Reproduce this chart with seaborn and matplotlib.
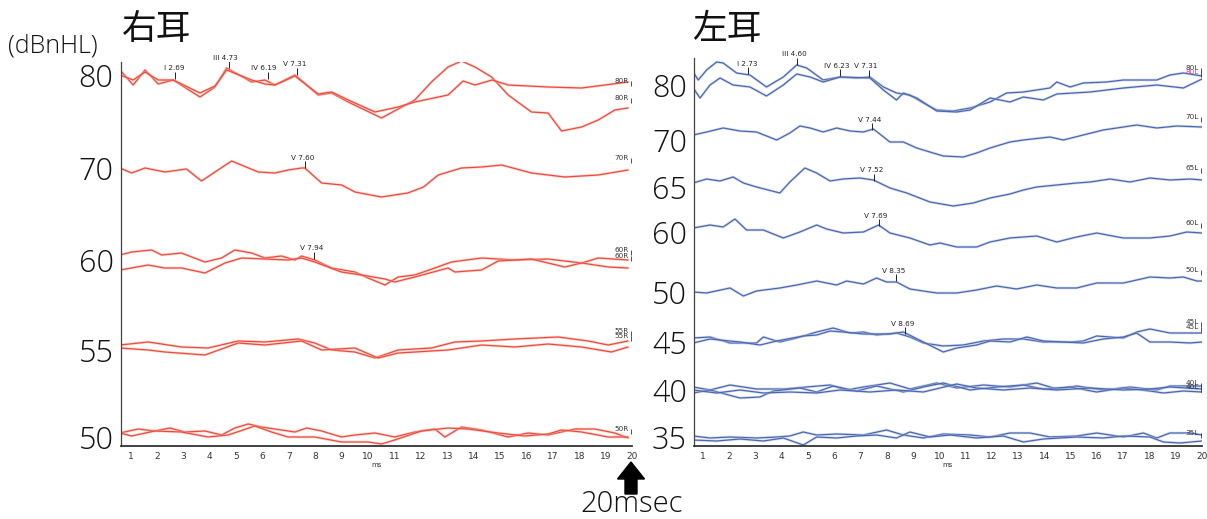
import matplotlib
matplotlib.use("Agg")
import matplotlib.pyplot as plt
import seaborn as sns
from matplotlib.patches import FancyArrow

sns.set_style("white")
plt.rcParams['font.family'] = ['Noto Sans CJK JP', 'DejaVu Sans']

# ---------------- data (latency in ms, trace level) -------------
# Right ear (red)
R80A_T = [0.60, 1.10, 1.55, 2.05, 2.62, 3.63, 4.20, 4.64, 5.59, 6.09, 6.47, 7.23, 8.11, 8.62, 9.25, 10.51,
          11.77, 12.40, 13.03, 13.54, 14.05, 14.68, 15.31, 16.19, 16.82, 17.33, 18.09, 18.72, 19.35, 19.85]
R80A_Y = [70, 85, 70, 84, 80, 97, 87, 68, 82, 80, 85, 75, 95, 93, 102, 118,
          100, 82, 67, 61, 67, 77, 95, 112, 113, 131, 127, 120, 110, 108]
R80B_T = [0.60, 1.10, 1.55, 2.05, 2.62, 3.63, 4.20, 4.64, 5.59, 6.09, 6.47, 7.23, 8.11, 8.62, 9.25, 10.26,
          11.14, 11.77, 13.03, 13.60, 14.05, 14.70, 15.31, 16.82, 18.09, 19.85]
R80B_Y = [75, 80, 72, 80, 80, 93, 86, 70, 80, 84, 85, 76, 94, 92, 100, 112,
          107, 102, 95, 81, 85, 80, 85, 87, 88, 82]
R70_T = [0.60, 1.04, 1.55, 2.30, 3.12, 3.69, 4.20, 4.83, 5.84, 6.47, 6.97, 7.48, 7.60, 8.24, 9.00, 9.50,
         10.50, 11.50, 12.10, 12.66, 13.54, 14.30, 15.06, 16.19, 17.45, 18.72, 19.85]
R70_Y = [168, 173, 168, 172, 169, 181, 172, 161, 172, 173, 170, 168, 168, 183, 185, 192,
         197, 193, 187, 175, 168, 167, 165, 173, 177, 175, 170]
R60A_T = [0.60, 1.04, 1.80, 2.18, 2.93, 3.82, 4.45, 4.95, 5.59, 6.09, 6.72, 7.23, 7.48, 7.98, 8.62, 9.50,
          10.00, 10.64, 11.14, 11.77, 12.53, 13.16, 14.30, 15.56, 16.82, 18.09, 18.72, 19.85]
R60A_Y = [255, 252, 250, 255, 253, 262, 258, 250, 253, 258, 256, 260, 256, 260, 268, 272,
          278, 285, 277, 275, 268, 262, 258, 260, 259, 263, 258, 260]
R60B_T = [0.60, 1.67, 2.30, 2.93, 3.82, 4.58, 5.21, 6.09, 6.97, 7.48, 7.98, 8.99, 9.75, 10.64, 11.01,
          11.77, 13.03, 13.29, 14.30, 14.93, 16.19, 17.45, 18.09, 19.10, 19.85]
R60B_Y = [270, 265, 268, 268, 273, 263, 258, 259, 260, 258, 262, 272, 275, 279, 282,
          277, 268, 272, 270, 261, 259, 267, 263, 267, 268]
R55A_T = [0.60, 1.67, 2.93, 3.94, 5.08, 6.09, 7.35, 7.98, 8.62, 9.50, 10.26, 11.14, 12.40, 13.29, 14.30,
          15.56, 17.20, 18.34, 19.10, 19.85]
R55A_Y = [345, 342, 347, 348, 341, 342, 339, 343, 350, 352, 358, 350, 348, 342, 341,
          339, 337, 341, 345, 341]
R55B_T = [0.60, 1.67, 2.30, 3.82, 5.08, 6.09, 7.48, 8.24, 9.50, 10.38, 11.14, 13.03, 14.30, 15.56, 16.82,
          18.09, 19.22, 19.85]
R55B_Y = [348, 350, 352, 355, 343, 345, 341, 350, 348, 358, 353, 350, 345, 347, 344,
          347, 352, 347]
R50A_T = [0.60, 1.29, 1.92, 2.49, 3.06, 3.82, 4.45, 4.95, 5.46, 5.96, 6.72, 7.23, 7.67, 8.24, 8.99, 9.50,
          10.26, 11.01, 11.77, 12.53, 12.91, 13.54, 14.30, 15.31, 16.07, 16.82, 17.83, 18.59, 19.35, 19.85]
R50A_Y = [433, 429, 431, 428, 432, 431, 435, 428, 424, 427, 430, 432, 428, 431, 437, 435,
          433, 437, 432, 429, 437, 427, 430, 437, 433, 435, 429, 429, 433, 438]
R50B_T = [0.60, 1.04, 1.92, 2.93, 3.94, 4.70, 5.71, 6.34, 6.97, 7.98, 8.99, 10.00, 10.51, 11.01, 12.02,
          13.03, 13.79, 14.93, 15.94, 16.82, 17.33, 18.09, 19.10, 19.85]
R50B_Y = [433, 436, 431, 432, 437, 435, 426, 432, 437, 437, 442, 442, 444, 440, 431,
          428, 429, 433, 436, 434, 430, 432, 437, 437]

# Left ear (blue)
L80A_T = [0.63, 0.82, 1.14, 1.52, 1.77, 2.28, 2.79, 3.42, 4.06, 4.57, 4.95, 5.58, 6.22, 6.85, 7.36, 7.87,
          8.37, 8.88, 9.39, 9.90, 10.53, 11.17, 11.93, 12.56, 13.20, 14.21, 14.47, 14.98, 15.48, 16.37,
          17.01, 18.28, 18.78, 19.29, 20.0]
L80A_Y = [72, 80, 70, 62, 63, 73, 75, 87, 77, 65, 68, 80, 77, 78, 77, 87,
          93, 95, 103, 110, 111, 108, 102, 93, 92, 88, 82, 87, 83, 82,
          80, 80, 75, 73, 76]
L80B_T = [0.63, 0.89, 1.27, 1.65, 2.15, 2.79, 3.42, 4.06, 4.57, 5.08, 5.58, 6.22, 7.36, 7.87, 8.37, 8.63,
          9.14, 9.90, 10.66, 11.17, 11.93, 12.69, 13.20, 13.96, 14.47, 15.74, 17.01, 18.28, 19.29, 20.0]
L80B_Y = [88, 98, 85, 78, 85, 87, 96, 85, 74, 77, 82, 77, 78, 90, 100, 93,
          98, 111, 112, 110, 98, 102, 97, 100, 94, 92, 88, 85, 88, 79]
L70_T = [0.63, 1.14, 1.77, 2.41, 3.04, 3.81, 4.31, 4.69, 5.08, 5.58, 6.09, 6.60, 7.11, 7.49, 8.12, 8.63,
         9.14, 9.64, 10.15, 10.91, 11.42, 11.93, 12.69, 13.20, 14.21, 14.72, 15.48, 16.24, 17.01, 17.51,
         18.28, 19.04, 20.0]
L70_Y = [135, 132, 128, 131, 132, 140, 133, 126, 128, 132, 128, 131, 132, 129, 142, 142,
         148, 152, 156, 157, 153, 148, 142, 140, 137, 140, 135, 130, 127, 125,
         128, 126, 127]
L65_T = [0.63, 1.14, 1.65, 2.15, 2.54, 3.04, 3.93, 4.31, 4.88, 5.33, 5.84, 6.34, 6.98, 7.49, 8.12, 8.76,
         9.64, 10.53, 11.29, 11.93, 12.69, 13.20, 13.71, 14.47, 15.23, 15.74, 16.50, 17.26, 18.02, 18.78,
         19.55, 20.0]
L65_Y = [183, 179, 181, 177, 183, 187, 193, 182, 168, 173, 181, 179, 178, 180, 188, 193,
         202, 206, 203, 198, 194, 190, 187, 185, 183, 182, 179, 182, 178, 180,
         179, 180]
L60_T = [0.63, 1.27, 1.77, 2.22, 2.66, 3.30, 4.06, 4.69, 5.33, 5.71, 6.34, 7.11, 7.69, 8.12, 8.88, 9.64,
         10.03, 10.66, 11.42, 11.93, 12.69, 13.71, 14.47, 15.23, 15.99, 17.01, 18.02, 18.78, 19.42, 20.0]
L60_Y = [228, 225, 227, 219, 230, 230, 238, 232, 225, 229, 233, 232, 225, 233, 238, 245,
         243, 247, 247, 242, 238, 236, 242, 237, 233, 238, 238, 236, 232, 233]
L50_T = [0.63, 1.14, 2.03, 2.54, 3.04, 3.93, 4.57, 5.33, 6.09, 6.47, 7.11, 7.61, 7.99, 8.37, 8.88, 9.90,
         10.66, 11.42, 12.18, 12.94, 13.71, 14.47, 15.23, 15.99, 17.01, 18.02, 18.78, 19.29, 19.80, 20.0]
L50_Y = [292, 293, 288, 296, 291, 288, 285, 281, 285, 281, 284, 278, 282, 282, 289, 293,
         293, 290, 286, 289, 285, 288, 288, 283, 283, 277, 278, 277, 281, 281]
L45A_T = [0.63, 1.27, 2.03, 3.04, 3.30, 3.93, 4.57, 5.33, 5.96, 6.60, 7.11, 7.61, 8.37, 8.88, 9.39, 10.15,
          10.91, 11.68, 12.44, 13.20, 13.96, 14.98, 15.48, 15.99, 17.01, 17.51, 18.02, 18.78, 19.55, 20.0]
L45A_Y = [338, 337, 343, 343, 337, 342, 338, 332, 328, 333, 332, 335, 333, 337, 343, 346,
          345, 341, 339, 339, 342, 342, 341, 336, 338, 332, 329, 333, 333, 333]
L45B_T = [0.63, 1.27, 2.41, 3.17, 3.81, 4.82, 5.33, 5.84, 6.34, 7.11, 8.12, 8.63, 9.39, 10.15, 10.66,
          11.42, 11.93, 12.69, 13.33, 13.96, 14.72, 15.48, 16.24, 17.01, 17.51, 18.02, 18.78, 19.55, 20.0]
L45B_Y = [343, 339, 342, 345, 341, 336, 335, 331, 332, 334, 334, 332, 342, 352, 348,
          345, 341, 342, 337, 341, 342, 343, 339, 337, 333, 342, 342, 343, 342]
L40A_T = [0.63, 1.27, 2.03, 3.04, 4.06, 4.95, 5.84, 6.47, 7.11, 8.12, 8.88, 9.90, 10.66, 11.68, 12.69,
          13.71, 14.47, 15.23, 16.24, 17.26, 18.28, 18.78, 20.0]
L40A_Y = [387, 390, 385, 389, 389, 387, 385, 390, 387, 383, 389, 383, 388, 385, 387,
          383, 389, 386, 390, 387, 390, 386, 386]
L40B_T = [0.63, 1.27, 2.41, 3.17, 3.68, 4.69, 5.33, 5.96, 6.85, 7.61, 8.63, 9.39, 10.15, 11.17, 12.18,
          13.20, 13.96, 14.98, 15.99, 17.01, 18.02, 18.53, 19.29, 20.0]
L40B_Y = [393, 390, 398, 397, 391, 388, 392, 386, 391, 386, 392, 387, 383, 390, 387,
          385, 389, 387, 392, 388, 391, 393, 391, 392]
L40C_T = [0.63, 1.52, 2.41, 3.30, 4.31, 5.33, 6.22, 7.36, 8.37, 9.39, 10.66, 11.42, 12.44, 13.45, 14.47,
          15.74, 17.01, 18.02, 18.78, 20.0]
L40C_Y = [390, 393, 390, 393, 392, 393, 390, 392, 390, 392, 384, 388, 390, 388, 390,
          388, 390, 389, 387, 389]
L35A_T = [0.63, 1.27, 2.03, 3.04, 3.81, 4.31, 4.82, 5.33, 6.09, 7.11, 7.99, 8.63, 9.39, 10.15, 11.17,
          11.93, 12.69, 13.45, 14.21, 15.23, 15.99, 17.01, 17.77, 18.28, 18.78, 19.55, 20.0]
L35A_Y = [436, 438, 437, 438, 437, 436, 432, 435, 434, 435, 430, 435, 438, 434, 435,
          437, 433, 433, 437, 436, 433, 437, 433, 438, 433, 433, 435]
L35B_T = [0.63, 1.52, 2.41, 3.30, 4.06, 4.82, 5.33, 6.09, 6.85, 7.61, 8.37, 8.88, 9.64, 10.41, 11.42,
          12.44, 13.20, 13.96, 15.23, 16.24, 17.01, 18.02, 18.53, 19.16, 20.0]
L35B_Y = [440, 441, 439, 441, 438, 445, 437, 438, 436, 435, 438, 432, 437, 435, 438,
          436, 442, 439, 437, 438, 436, 437, 442, 443, 441]

# Peak markers: wave name, latency (ms), trace level at the peak
R_PEAK_NAMES = ["I", "III", "IV", "V", "V", "V"]
R_PEAK_LAT = [2.69, 4.73, 6.19, 7.31, 7.60, 7.94]
R_PEAK_LVL = [79, 68, 79, 75, 168, 259]
L_PEAK_NAMES = ["I", "III", "IV", "V", "V", "V", "V", "V", "V"]
L_PEAK_LAT = [2.73, 4.60, 6.23, 7.31, 7.44, 7.52, 7.69, 8.35, 8.69]
L_PEAK_LVL = [74, 65, 76, 77, 130, 181, 226, 281, 334]

# End-of-trace labels
R_END_LABELS = ["80R", "80R", "70R", "60R", "60R", "55R", "55R", "50R"]
R_END_LVL = [81, 98, 158, 250, 256, 331, 336, 429]
L_END_LABELS = ["80L", "80L", "70L", "65L", "60L", "50L", "45L", "45L", "40L", "40L", "35L"]
L_END_LVL = [68, 72, 117, 168, 223, 270, 322, 327, 383, 387, 433]

# Big intensity labels (dBnHL)
R_LEVELS = ["80", "70", "60", "55", "50"]
R_LEVEL_POS = [75, 168, 260, 350, 437]
L_LEVELS = ["80", "70", "65", "60", "50", "45", "40", "35"]
L_LEVEL_POS = [85, 140, 187, 232, 292, 342, 390, 437]
R_TICKS = [68, 114, 159, 205, 251, 297, 343, 388, 434]
L_TICKS = [68, 111, 154, 201, 249, 296, 343, 390, 438]

X_TICKS = list(range(1, 21))

RED = "#ee4a3a"
BLUE = "#4766b4"

# ---------------- figure ----------------
W, H = 1207, 519
fig = plt.figure(figsize=(W / 100, H / 100), dpi=100)
axR = fig.add_axes([120.5 / W, (H - 446) / H, (632 - 120.5) / W, (446 - 62) / H])
axL = fig.add_axes([694 / W, (H - 446) / H, (1202 - 694) / W, (446 - 58) / H])

right_ear = [(R80A_T, R80A_Y), (R80B_T, R80B_Y), (R70_T, R70_Y), (R60A_T, R60A_Y), (R60B_T, R60B_Y),
             (R55A_T, R55A_Y), (R55B_T, R55B_Y), (R50A_T, R50A_Y), (R50B_T, R50B_Y)]
left_ear = [(L80A_T, L80A_Y), (L80B_T, L80B_Y), (L70_T, L70_Y), (L65_T, L65_Y), (L60_T, L60_Y),
            (L50_T, L50_Y), (L45A_T, L45A_Y), (L45B_T, L45B_Y), (L40A_T, L40A_Y), (L40B_T, L40B_Y),
            (L40C_T, L40C_Y), (L35A_T, L35A_Y), (L35B_T, L35B_Y)]

BIG_FONT = ["Open Sans", "Noto Sans CJK JP", "DejaVu Sans"]


def draw_panel(ax, traces, color, halo, names, lats, lvls, end_labels, end_lvls,
               levels, level_pos, ticks, xlim, ylim, end_colors=None):
    for T, Y in traces:
        sns.lineplot(x=T, y=Y, ax=ax, color=halo, linewidth=2.0, alpha=0.5,
                     estimator=None, sort=False, legend=False)
        sns.lineplot(x=T, y=Y, ax=ax, color=color, linewidth=0.9,
                     estimator=None, sort=False, legend=False)
    for n, t, v in zip(names, lats, lvls):
        ax.vlines(t, v - 7, v, color="#222222", lw=0.7)
        ax.text(t + 0.35, v - 7.5, f"{n} {t:.2f}", ha="right", va="bottom",
                fontsize=5.2, family="DejaVu Sans", color="#222222", clip_on=False)
    for i, (lab, v) in enumerate(zip(end_labels, end_lvls)):
        c = end_colors[i] if end_colors else "#333333"
        ax.text(xlim[1] - 0.12, v, lab, ha="right", va="center", fontsize=5.2,
                family="DejaVu Sans", color=c, clip_on=False)
        ax.vlines(xlim[1] - 0.05, v, v + 5, color="#333333", lw=0.6, clip_on=False)
    ax.set_xlim(*xlim)
    ax.set_ylim(*ylim)
    ax.set_yticks(level_pos, levels)
    ax.set_yticks(ticks, minor=True)
    ax.tick_params(axis="y", which="major", length=0, pad=5, labelsize=22)
    for lab in ax.get_yticklabels():
        lab.set_family(BIG_FONT)
        lab.set_fontweight("light")
        lab.set_color("#111111")
    ax.tick_params(axis="y", which="minor", length=3, width=0.7, color="#333333", direction="out")
    ax.set_xticks(X_TICKS, [str(v) for v in X_TICKS])
    ax.tick_params(axis="x", which="major", length=3, width=0.7, pad=1.5, labelsize=6.5,
                   color="#333333", direction="out")
    for lab in ax.get_xticklabels():
        lab.set_family(["Liberation Sans Narrow", "DejaVu Sans"])
        lab.set_color("#333333")
    ax.set_xlabel("ms", fontsize=5, labelpad=0.5, family="DejaVu Sans", color="#333333")
    ax.set_ylabel("")
    for s in ["top", "right"]:
        ax.spines[s].set_visible(False)
    ax.spines["left"].set_color("#444444")
    ax.spines["left"].set_linewidth(0.9)
    ax.spines["bottom"].set_color("#333333")
    ax.spines["bottom"].set_linewidth(1.3)
    ax.set_facecolor("white")


draw_panel(axR, right_ear, RED, "#f7b3aa", R_PEAK_NAMES, R_PEAK_LAT, R_PEAK_LVL,
           R_END_LABELS, R_END_LVL, R_LEVELS, R_LEVEL_POS, R_TICKS, (0.62, 20.0), (446, 62))
draw_panel(axL, left_ear, BLUE, "#b9c3d6", L_PEAK_NAMES, L_PEAK_LAT, L_PEAK_LVL,
           L_END_LABELS, L_END_LVL, L_LEVELS, L_LEVEL_POS, L_TICKS, (0.66, 20.0), (446, 58),
           end_colors=["#333333", "#e0407a"] + ["#333333"] * 9)

# titles and units
fig.text(122 / W, (H - 30) / H, "右耳", fontsize=25, ha="left", va="center", color="#111111")
fig.text(692 / W, (H - 29) / H, "左耳", fontsize=25, ha="left", va="center", color="#111111")
fig.text(8 / W, (H - 46) / H, "(dBnHL)", fontsize=18, ha="left", va="center", color="#111111",
         family=BIG_FONT, fontweight="light")

# arrow + 20msec
arrow = FancyArrow(6.31, 0.25, 0, 0.32, width=0.12, head_width=0.27, head_length=0.17,
                   length_includes_head=True, color="black", transform=fig.dpi_scale_trans)
fig.patches.append(arrow)
fig.text(632 / W, (H - 504) / H, "20msec", fontsize=21, ha="center", va="center", color="#111111",
         family=BIG_FONT, fontweight="light")

fig.savefig("out.png", dpi=100, facecolor="white")
